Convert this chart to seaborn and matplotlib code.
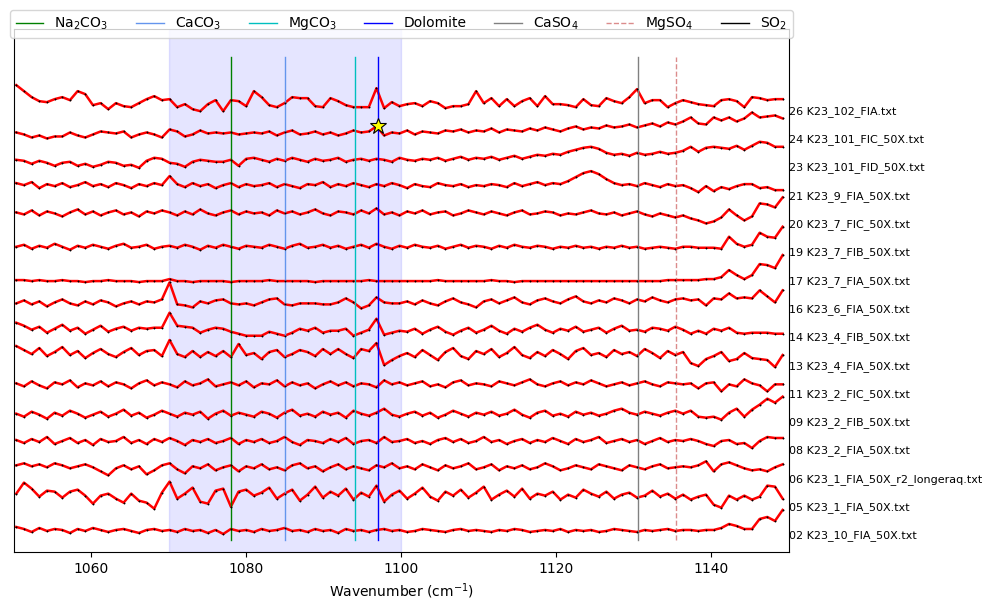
import numpy as np
import pandas as pd
import matplotlib
matplotlib.use('Agg')
import matplotlib.pyplot as plt
import seaborn as sns

# sample names, bottom to top
samples = ['02 K23_10_FIA_50X.txt', '05 K23_1_FIA_50X.txt', '06 K23_1_FIA_50X_r2_longeraq.txt',
           '08 K23_2_FIA_50X.txt', '09 K23_2_FIB_50X.txt', '11 K23_2_FIC_50X.txt',
           '13 K23_4_FIA_50X.txt', '14 K23_4_FIB_50X.txt', '16 K23_6_FIA_50X.txt',
           '17 K23_7_FIA_50X.txt', '19 K23_7_FIB_50X.txt', '20 K23_7_FIC_50X.txt',
           '21 K23_9_FIA_50X.txt', '23 K23_101_FID_50X.txt', '24 K23_101_FIC_50X.txt',
           '26 K23_102_FIA.txt']

# normalised intensities, one list per spectrum
s02 = [9,7,4,8,5,7,6,3,7,5, 8,6,4,6,7,5,3,6,7,5, 6,4,7,5,6,3,6,2,7,5, 6,4,7,5,6,8,5,6,4,7,
       5,6,3,7,5,6,4,6,7,5, 6,4,5,7,6,5,4,6,7,5, 6,5,4,6,5,7,6,4,5,6, 5,7,4,6,5,6,4,5,7,6,
       5,4,6,5,6,7,5,6, 6,5,6,6,8,12,10,7,7,17,19,15,26]
s05 = [14,25,19,11,17,16,10,16,18,12, 4,12,14,9,5,14,7,5,-1,15, 26,9,14,20,6,4,17,19,1,16, 18,
       12,15,20,9,14,18,7,13,21,10, 16,12,19,8,15,11,22,6,13,17, 9,14,20,11,7,16,12,18,10,15,
       21,8,13,17,11,19,9,14,12,16, 8,13,10,18,14,11,16,9,13,15, 10,12,17,11,14,9,13,
       8,11,13,3,0,12,8,12,8,11,22,21,9]
s06 = [14,16,13,15,12,16,14,11,13,15, 12,8,4,11,14,10,13,5,9,14, 16,10,6,13,11,15,9,12,14,8,
       13,11,15,10,12,9,14,16,11,13, 8,12,15,10,13,11,9,14,12,16, 11,
       13,10,15,12,9,14,11,13,16,10, 12,15,9,13,11,14,10,12,16,13, 9,11,14,12,10,15,13,11,9,14,
       12,10,13,15,11,12,13, 12,14,18,8,15,17,14,11,9,10,8,12,15]
s08 = [11,8,12,9,14,7,10,13,8,11, 6,12,9,10,14,8,11,7,12,9, 13,10,6,11,9,12,8,10,13,7,
       11,9,12,8,10,14,9,6,11,10, 8,12,9,13,7,10,11,8,14,9, 10,
       12,8,10,7,11,13,9,12,8,10, 14,9,11,7,10,12,8,11,9,13, 10,7,12,9,11,14,8,10,12,9,
       11,7,10,13,9,11,10, 12,10,7,5,10,11,7,8,3,10,14,13,13]
s09 = [9,6,11,8,4,10,7,12,9,5, 8,11,6,9,13,7,10,5,8,12, 9,6,10,8,11,4,9,12,7,10,
       8,6,11,9,5,10,13,7,9,6, 11,8,10,5,12,9,7,10,14,8, 6,
       9,11,7,10,5,8,12,9,6,10, 8,11,7,9,13,8,5,10,12,7, 9,6,11,8,10,7,9,12,14,10,
       8,11,9,7,10,12,9, 12,6,5,6,3,10,14,6,13,18,24,20,26]
s11 = [11,8,13,9,6,12,10,14,7,11, 9,13,8,12,10,6,11,14,9,12, 10,7,13,9,11,15,8,10,12,9,
       13,7,11,10,14,8,12,9,11,6, 10,13,9,12,8,11,10,7,14,10, 12,
       9,11,13,8,10,7,12,14,9,11, 10,8,13,11,9,12,15,10,8,11, 13,9,12,10,14,11,8,10,12,9,
       11,13,10,8,12,11,10, 11,6,11,12,3,10,8,15,11,9,3,10,10]
s13 = [20,16,12,18,10,14,19,11,15,8,13,17,12,9,14,18,11,15,
       16,10,26,12,9,15,9,14,10,15,9,22,11,13,7,14,16,9,12,16,14,10,17,12,17,12,8,17,15,23,1,6,10,
       13,9,16,11,6,14,18,10,7,15,12,17,9,13,19,11,8,14,10,16,12,7,15,18,11,13,9,16,12,14,10,17,13,8,15,11,14,
       3,0,7,10,14,5,7,13,8,7,6,-1,11]
s14 = [15,12,8,11,5,9,13,7,10,4,8,12,6,9,11,7,10,9,
       10,10,25,12,11,10,5,8,10,9,6,4,2,2,2,6,4,2,5,9,7,10,5,7,7,9,2,5,8,19,3,5,7,
       6,9,4,8,11,6,3,7,10,5,8,12,7,4,9,6,10,13,8,5,9,7,11,6,8,10,5,9,12,7,8,6,10,9,7,11,8,
       4,7,4,9,7,10,5,4,5,5,5,4,4]
s16 = [6,9,5,8,3,7,10,6,4,8,5,9,7,3,6,8,5,8,
       7,10,27,5,4,2,8,6,9,10,6,5,6,4,7,10,11,5,4,6,6,6,5,5,7,11,7,1,4,12,7,6,6,
       8,5,9,6,4,8,11,7,5,2,8,10,6,9,12,7,5,9,11,8,6,10,13,8,6,9,7,11,9,6,10,8,12,9,7,10,11,
       9,10,4,11,10,16,11,12,11,19,13,7,19]
s17 = [1,1,0,1,0,0,1,0,0,-1, 0,0,1,0,0,0,-1,0,0,0, 2,0,0,-1,0,0,0,0,-1,0, 0,0,0,1,0,0,0,0,0,-1,
       0,0,0,0,0,0,1,0,0,0, 0,0,0,0,0,1,0,0,0,0, 0,0,1,0,0,-1,0,0,0,0, 0,0,0,0,0,0,0,0,0,0,
       0,0,0,0,0,1,1,1, 1,1,2,2,4,11,6,2,6,17,16,13,26]
s19 = [6,8,4,7,5,9,6,3,7,5,8,6,4,7,9,5,6,8,4,6,7,5,8,6,3,7,5,8,6,4,7,6,
       5,8,6,4,7,9,5,6,8,5,7,4,6,8,5,9,6,4,7,5,8,6,5,7,4,6,8,5,7,
       6,4,7,5,8,6,5,7,6,4,6,5,7,5,6,4,6,5,7,5,6,4,5,6,5,4,6,
       6,5,5,5,4,16,9,6,8,20,16,15,26]
s20 = [12,10,14,9,13,11,8,12,15,10,13,9,12,14,10,12,8,13,11,14,12,9,13,10,15,11,9,12,14,10,13,11,
       12,9,14,11,13,10,12,15,11,9,13,12,10,14,11,16,10,12,9,13,11,14,10,12,13,9,11,14,12,
       10,13,11,9,12,14,10,11,13,12,9,11,10,12,14,11,10,12,9,11,13,10,8,11,9,7,9,
       6,4,1,3,7,15,9,4,8,21,20,17,27]
s21 = [13,11,14,8,12,10,13,9,11,14,10,12,9,13,11,8,12,10,13,11,20,12,9,13,10,12,8,11,13,9,12,10,
       11,13,9,12,10,8,12,11,14,9,12,10,13,11,9,12,10,13,11,8,12,10,9,13,11,10,12,9,11,
       10,12,11,9,13,10,12,14,11,13,12,15,19,23,25,22,17,13,11,12,10,13,11,9,12,10,11,
       8,4,10,5,9,7,10,12,12,8,9,6,6]
s23 = [8,7,4,7,5,2,5,6,2,4,1,3,6,5,2,3,0,7,10,9,5,4,1,6,8,7,6,6,8,2,9,10,
       8,6,9,7,10,8,6,9,7,8,10,6,8,9,7,9,8,6,10,8,7,9,8,10,7,9,11,8,10,
       9,11,8,10,12,9,11,13,12,14,13,16,18,20,21,19,15,13,14,12,15,13,14,16,14,15,17,
       21,16,20,21,20,19,22,18,22,26,25,21,21]
s24 = [7,5,2,4,1,3,3,7,4,2,5,8,7,6,8,2,5,7,5,2,10,8,3,5,9,6,7,6,7,5,6,7,
       6,8,4,7,9,5,6,8,5,7,4,6,9,7,8, 13,
       4,7,6,9,5,8,7,6,9,8,10,7,9,
       8,11,7,10,9,8,11,9,12,10,8,11,13,10,12,
       11,14,12,13,15,12,14,16,13,17,15,18,
       22,16,15,22,19,22,18,21,27,22,23,24,21]
s26 = [26,20,14,10,9,12,14,11,20,17,6, 8,2,8,5,4,8,12,15,11,12, 4,7,2,0,7,11,0,11,10,5,20,
       14,6,4,8,14,13,13,5,4,13,10,6,4,4,4, 23,3,9,5,7,8,5,10,8,3,5,5,7,20,
       8,13,5,12,5,10,13,5,15,7,7,6,4,12,6, 5,13,10,8,14,22,8,11,11,4,8,11,9,7,6,
       5,11,12,10,4,14,13,11,12,12]
spectra = [s02, s05, s06, s08, s09, s11, s13, s14, s16, s17, s19, s20, s21, s23, s24, s26]

# reference peak positions (cm-1)
ref_names = ['Na$_2$CO$_3$', 'CaCO$_3$', 'MgCO$_3$', 'Dolomite', 'CaSO$_4$', 'MgSO$_4$', 'SO$_2$']
ref_pos = [1078, 1085, 1094, 1097, 1130.5, 1135.5, 1151]
ref_colors = ['green', 'cornflowerblue', 'c', 'blue', 'gray', 'indianred', 'black']
ref_styles = ['-', '-', '-', '-', '-', '--', '-']

star_pos = 1097
star_sample = '24 K23_101_FIC_50X.txt'
norm = 28.3

# long-form table, each spectrum shifted up by its index
rows = []
for i, (name, vals) in enumerate(zip(samples, spectra)):
    wn = np.linspace(1050.3, 1149.2, len(vals))
    for w, v in zip(wn, vals):
        rows.append((name, w, i + v / norm))
df = pd.DataFrame(rows, columns=['sample', 'wavenumber', 'intensity'])

fig, ax = plt.subplots(figsize=(9.91, 6.11), dpi=100)
fig.subplots_adjust(left=0.0141, right=0.796, bottom=0.0966, top=0.9525)

ax.axvspan(1070, 1100, color='blue', alpha=0.1)

sns.lineplot(data=df, x='wavenumber', y='intensity', units='sample', estimator=None,
             color='red', lw=1.8, ax=ax, legend=False)
sns.scatterplot(data=df, x='wavenumber', y='intensity', color='black', s=5,
                marker='.', edgecolor=None, ax=ax, legend=False, zorder=3)

for name, pos, col, ls in zip(ref_names, ref_pos, ref_colors, ref_styles):
    ax.plot([pos, pos], [-0.14, 16.9], color=col, ls=ls, lw=1,
            alpha=0.7 if ls == '--' else 1, label=name, zorder=2.5)

for i, name in enumerate(samples):
    ax.text(1150, i, name, fontsize=8, va='center', ha='left')

# star on the dolomite peak of sample 24
sub = df[df['sample'] == star_sample]
j = (sub['wavenumber'] - star_pos).abs().idxmin()
ax.plot(star_pos, sub.loc[j, 'intensity'], marker='*', ms=12, mfc='yellow', mec='black',
        mew=0.8, zorder=4)

ax.set_xlim(1050, 1150)
ax.set_ylim(-0.565, 17.9)
ax.set_yticks([])
ax.set_ylabel('')
ax.set_xlabel('Wavenumber (cm$^{-1}$)')
ax.legend(loc='upper center', bbox_to_anchor=(0.5, 1.05), ncol=7, fontsize=10)

plt.savefig('out.png', dpi=100)
